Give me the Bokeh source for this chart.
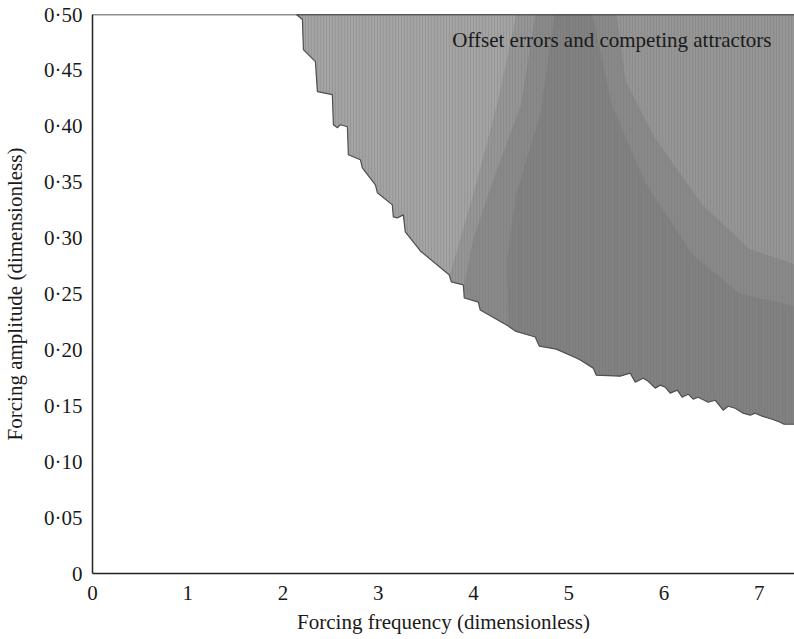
from bokeh.plotting import figure
from bokeh.models import Span, Label, CustomJSTickFormatter, FixedTicker
from bokeh.embed import file_html
from bokeh.resources import INLINE

# ---- data ----
# boundary of the region with offset errors / competing attractors (frequency, amplitude)
edge_freq = [2.141, 2.204, 2.214, 2.340, 2.361, 2.518, 2.529, 2.571, 2.602, 2.676, 2.686,
             2.812, 2.833, 2.970, 2.991, 3.148, 3.158, 3.200, 3.263, 3.284, 3.442, 3.746,
             3.767, 3.893, 3.903, 4.050, 4.071, 4.365, 4.439, 4.648, 4.690, 4.869, 5.079,
             5.121, 5.257, 5.289, 5.540, 5.645, 5.698, 5.782, 5.834, 5.908, 5.960, 6.013,
             6.065, 6.139, 6.191, 6.254, 6.306, 6.359, 6.464, 6.537, 6.621, 6.674, 6.747,
             6.831, 6.905, 6.957, 7.030, 7.135, 7.219, 7.261, 7.366]
edge_amp = [0.500, 0.4955, 0.4686, 0.4579, 0.4310, 0.4283, 0.4014, 0.3987, 0.4014, 0.3996, 0.3746,
            0.3701, 0.3629, 0.3477, 0.3405, 0.3297, 0.3190, 0.3181, 0.3208, 0.3056, 0.2885, 0.2670,
            0.2608, 0.2581, 0.2464, 0.2428, 0.2357, 0.2213, 0.2168, 0.2115, 0.2034, 0.2007, 0.1927,
            0.1909, 0.1837, 0.1774, 0.1765, 0.1792, 0.1711, 0.1747, 0.1720, 0.1658, 0.1685, 0.1667,
            0.1613, 0.1640, 0.1577, 0.1604, 0.1559, 0.1577, 0.1532, 0.1550, 0.1461, 0.1496, 0.1478,
            0.1434, 0.1416, 0.1434, 0.1407, 0.1380, 0.1353, 0.1335, 0.1335]

# lighter zone near the upper-left part of the boundary (its right-hand limit, bottom to top)
light_freq = [3.75, 4.00, 4.25, 4.45]
light_amp = [0.267, 0.340, 0.420, 0.500]

# wide, soft darker band (left limit top->bottom, right limit right->top)
band_left_freq = [4.65, 4.50, 4.20, 4.00, 3.90]
band_left_amp = [0.500, 0.420, 0.350, 0.300, 0.258]
band_right_freq = [7.60, 6.90, 6.40, 5.90, 5.60, 5.50]
band_right_amp = [0.270, 0.290, 0.330, 0.390, 0.440, 0.500]

# darker core of the band
core_left_freq = [4.85, 4.70, 4.45, 4.35]
core_left_amp = [0.500, 0.410, 0.340, 0.280]
core_right_freq = [7.60, 6.80, 6.30, 5.80, 5.45, 5.25]
core_right_amp = [0.235, 0.250, 0.285, 0.350, 0.420, 0.500]

x_ticks = [0, 1, 2, 3, 4, 5, 6, 7]
y_ticks = [0, 0.05, 0.10, 0.15, 0.20, 0.25, 0.30, 0.35, 0.40, 0.45, 0.50]
x_title = "Forcing frequency (dimensionless)"
y_title = "Forcing amplitude (dimensionless)"
note = "Offset errors and competing attractors"

X_END = 7.37
Y_END = 0.50
X_OUT = 7.6
FONT = "Liberation Serif"
FS = "21px"

p = figure(width=794, height=639, x_range=(0, X_END), y_range=(0, Y_END),
           output_backend="svg", toolbar_location=None,
           min_border_left=92, min_border_right=0, min_border_top=14, min_border_bottom=66)
p.outline_line_color = None
p.xgrid.visible = False
p.ygrid.visible = False
p.background_fill_color = "white"
p.border_fill_color = "white"


def first_at(f0):
    return next(i for i, f in enumerate(edge_freq) if f >= f0)


# gray region
reg_x = edge_freq + [X_OUT, X_OUT]
reg_y = edge_amp + [edge_amp[-1], Y_END]
p.patch(reg_x, reg_y, fill_color="#959595", line_color=None)

# light zone on the left
kl = first_at(light_freq[0])
p.patch(edge_freq[:kl] + light_freq, edge_amp[:kl] + light_amp,
        fill_color="#a6a6a6", fill_alpha=0.8, line_color=None)

# soft band
kb = first_at(band_left_freq[-1])
p.patch(band_left_freq + edge_freq[kb:] + band_right_freq,
        band_left_amp + edge_amp[kb:] + band_right_amp,
        fill_color="#7e7e7e", fill_alpha=0.5, line_color=None)

# core of band
kc = first_at(core_left_freq[-1])
p.patch(core_left_freq + edge_freq[kc:] + core_right_freq,
        core_left_amp + edge_amp[kc:] + core_right_amp,
        fill_color="#727272", fill_alpha=0.35, line_color=None)

# vertical stripe texture and the outline of the region
p.patch(reg_x, reg_y, fill_alpha=0, line_color="#505050", line_width=1.2,
        hatch_pattern="|", hatch_color="#6a6a6a", hatch_alpha=0.2,
        hatch_scale=3, hatch_weight=1)

# top frame line
p.add_layout(Span(location=Y_END, dimension="width", line_color="#222222", line_width=1.5))

p.add_layout(Label(x=3.777, y=0.4776, text=note, text_font=FONT, text_font_size=FS,
                   text_color="#1a1a1a", text_baseline="middle", text_align="left"))

for ax in (p.xaxis[0], p.yaxis[0]):
    ax.axis_line_color = "#222222"
    ax.axis_line_width = 1.5
    ax.major_tick_line_color = None
    ax.minor_tick_line_color = None
    ax.major_tick_out = 0
    ax.major_tick_in = 0
    ax.major_label_text_font = FONT
    ax.major_label_text_font_size = FS
    ax.major_label_text_color = "#1a1a1a"
    ax.axis_label_text_font = FONT
    ax.axis_label_text_font_size = FS
    ax.axis_label_text_font_style = "normal"
    ax.axis_label_text_color = "#1a1a1a"

p.xaxis[0].ticker = FixedTicker(ticks=x_ticks)
p.yaxis[0].ticker = FixedTicker(ticks=y_ticks)
p.yaxis[0].formatter = CustomJSTickFormatter(
    code="return tick == 0 ? '0' : tick.toFixed(2).replace('.', '\u00b7');")
p.xaxis[0].axis_label = x_title
p.yaxis[0].axis_label = y_title
p.xaxis[0].major_label_standoff = 12
p.yaxis[0].major_label_standoff = 10
p.xaxis[0].axis_label_standoff = 7
p.yaxis[0].axis_label_standoff = 14

open("out.html", "w").write(file_html(p, INLINE))
